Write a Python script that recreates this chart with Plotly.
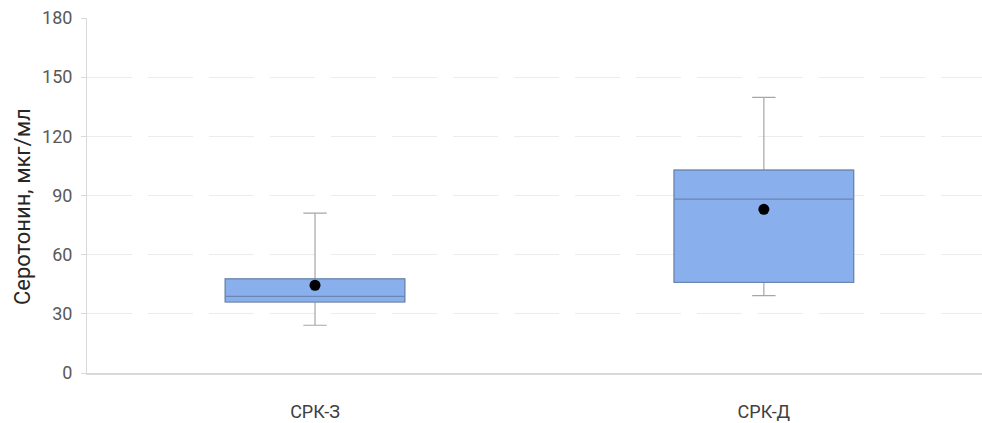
import plotly.graph_objects as go

# Serotonin levels by IBS subtype (summary statistics)
groups = ["СРК-З", "СРК-Д"]
q1 = [36.0, 46.0]
median = [38.9, 88.2]
q3 = [47.7, 102.9]
whisker_low = [24.2, 39.2]
whisker_high = [81.1, 139.8]
mean = [44.5, 83.0]

y_ticks = [0, 30, 60, 90, 120, 150, 180]
y_title = "Серотонин, мкг/мл"

FONT = "Roboto"
TEXT = "#595959"

fig = go.Figure()

# whiskers (grey), drawn underneath
fig.add_trace(go.Box(
    x=groups, q1=q1, median=median, q3=q3,
    lowerfence=whisker_low, upperfence=whisker_high,
    width=0.4, whiskerwidth=0.13,
    fillcolor="rgba(0,0,0,0)",
    line=dict(color="#a6a6a6", width=1.2),
    boxpoints=False, showlegend=False, hoverinfo="skip",
))

# interquartile boxes with median line
fig.add_trace(go.Box(
    x=groups, q1=q1, median=median, q3=q3,
    lowerfence=q1, upperfence=q3,
    width=0.4, whiskerwidth=0,
    fillcolor="#8aafed",
    line=dict(color="#6a86b4", width=1.2),
    boxpoints=False, showlegend=False,
))

# means
fig.add_trace(go.Scatter(
    x=groups, y=mean, mode="markers",
    marker=dict(color="black", size=11),
    showlegend=False,
))

fig.update_layout(
    width=982, height=423,
    margin=dict(l=87, r=0, t=18, b=50),
    paper_bgcolor="white", plot_bgcolor="white",
    boxmode="overlay",
    font=dict(family=FONT, size=18, color=TEXT),
    xaxis=dict(
        type="category", range=[-0.508, 1.486],
        showgrid=False, zeroline=False,
        showline=True, linecolor="#d9d9d9", linewidth=1.5,
        ticks="", ticklabelstandoff=22,
        tickfont=dict(family=FONT, size=18, color="#404040"),
    ),
    yaxis=dict(
        range=[0, 180], tickvals=y_ticks,
        showgrid=True, gridcolor="#ececec", gridwidth=1, griddash="45px,16px",
        zeroline=False,
        showline=True, linecolor="#d9d9d9", linewidth=1,
        ticks="outside", ticklen=5, tickcolor="#d9d9d9",
        ticklabelstandoff=5,
        tickfont=dict(family=FONT, size=18, color=TEXT),
    ),
    annotations=[dict(
        text=y_title, textangle=-90,
        xref="paper", yref="paper", x=-0.0726, y=0.4676,
        xanchor="center", yanchor="middle", showarrow=False,
        font=dict(family=FONT, size=22, color="#262626"),
    )],
)

fig.write_html("out.html")
